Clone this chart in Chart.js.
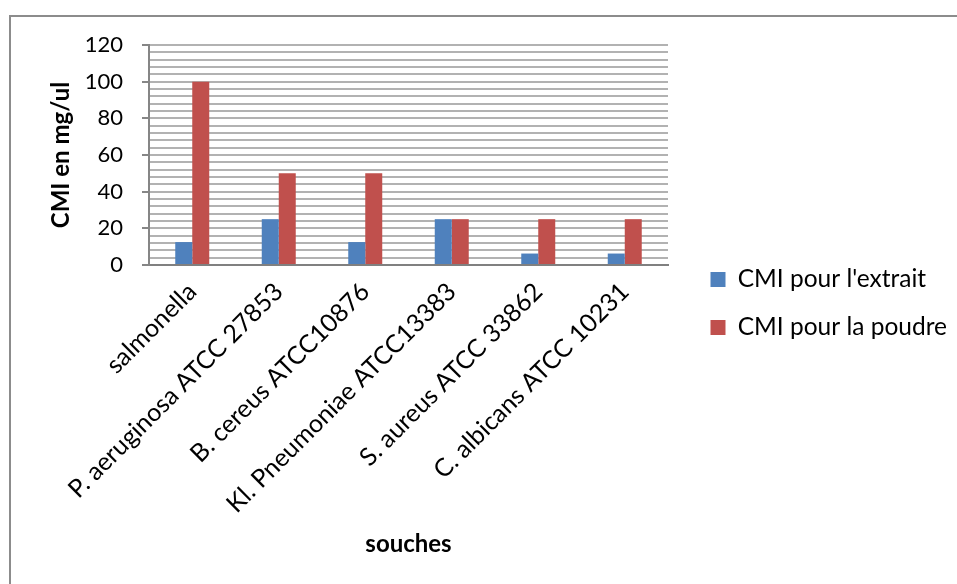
<!DOCTYPE html>
<html>
<head>
<meta charset="utf-8">
<script src="https://cdn.jsdelivr.net/npm/chart.js@4/dist/chart.umd.min.js"></script>
<style>
  html, body { margin: 0; padding: 0; background: #ffffff; }
  #wrap { position: relative; width: 957px; height: 584px; overflow: hidden; }
  /* outer chart frame: only top and left edges fall inside the view */
  #frame { position: absolute; left: 9px; top: 15px; width: 1000px; height: 700px;
           border-top: 2px solid #8c8c8c; border-left: 2px solid #8c8c8c; box-sizing: border-box; }
  canvas { position: absolute; left: 0; top: 0; }
</style>
</head>
<body>
<div id="wrap">
  <div id="frame"></div>
  <canvas id="chart" width="957" height="584"></canvas>
</div>
<script>
// Strains tested
const categories = [
  'salmonella',
  'P. aeruginosa ATCC 27853',
  'B. cereus ATCC10876',
  'Kl. Pneumoniae ATCC13383',
  'S. aureus ATCC 33862',
  'C. albicans ATCC 10231'
];
// MIC values (mg/ul)
const cmiExtrait = [12.5, 25, 12.5, 25, 6.25, 6.25];
const cmiPoudre  = [100, 50, 50, 25, 25, 25];
// Labelled y-axis values
const yTickLabels = [0, 20, 40, 60, 80, 100, 120];

const FONT = 'Lato, "Noto Sans", sans-serif';

const chart = new Chart(document.getElementById('chart'), {
  type: 'bar',
  data: {
    labels: categories,
    datasets: [
      { label: "CMI pour l'extrait", data: cmiExtrait, backgroundColor: '#4f81bd',
        categoryPercentage: 0.393, barPercentage: 1.0, yAxisID: 'y' },
      { label: 'CMI pour la poudre', data: cmiPoudre, backgroundColor: '#c0504d',
        categoryPercentage: 0.393, barPercentage: 1.0, yAxisID: 'y' }
    ]
  },
  options: {
    responsive: false,
    animation: false,
    layout: { padding: { top: 45, left: 0, right: 0, bottom: 22 } },
    plugins: {
      tooltip: { enabled: false },
      legend: {
        position: 'right',
        labels: {
          boxWidth: 15, boxHeight: 15, padding: 23.5,
          color: '#000000',
          font: { family: FONT, size: 24.5 }
        }
      }
    },
    scales: {
      x: {
        grid: { display: false, drawTicks: false },
        border: { display: true, color: '#808080', width: 2 },
        ticks: {
          autoSkip: false, minRotation: 45, maxRotation: 45, padding: 12,
          color: '#000000', font: { family: FONT, size: 25 }
        },
        title: {
          display: true, text: 'souches', color: '#000000',
          font: { family: FONT, size: 24, weight: 'bold' },
          padding: { top: 0, bottom: 3 }
        },
        afterFit: (scale) => { scale.height = 297; }
      },
      y: {
        position: 'left',
        min: 0, max: 120,
        grid: {
          color: '#b2b2b2', lineWidth: 2, tickLength: 7,
          tickColor: (ctx) => (yTickLabels.includes(ctx.tick.value) ? '#868686' : 'rgba(0,0,0,0)'),
          tickWidth: 2
        },
        border: { display: true, color: '#868686', width: 2 },
        ticks: {
          stepSize: 4, padding: 19, color: '#000000', autoSkip: false,
          font: { family: FONT, size: 22 },
          callback: (v) => (yTickLabels.includes(v) ? String(v) : '')
        },
        title: {
          display: true, text: 'CMI en mg/ul', color: '#000000',
          font: { family: FONT, size: 24, weight: 'bold' },
          padding: { top: 47, bottom: 0 }
        },
        afterFit: (scale) => { scale.width = 149; }
      },
      // empty spacer between the plot and the legend
      gap: {
        type: 'linear', position: 'right', display: true,
        grid: { display: false, drawTicks: false },
        border: { display: false },
        ticks: { display: false },
        afterFit: (scale) => { scale.width = 19; }
      }
    }
  }
});

// fixed legend column width
const legendFit = chart.legend.fit.bind(chart.legend);
chart.legend.fit = function () { legendFit(); this.width = 270; };
chart.update();
</script>
</body>
</html>
